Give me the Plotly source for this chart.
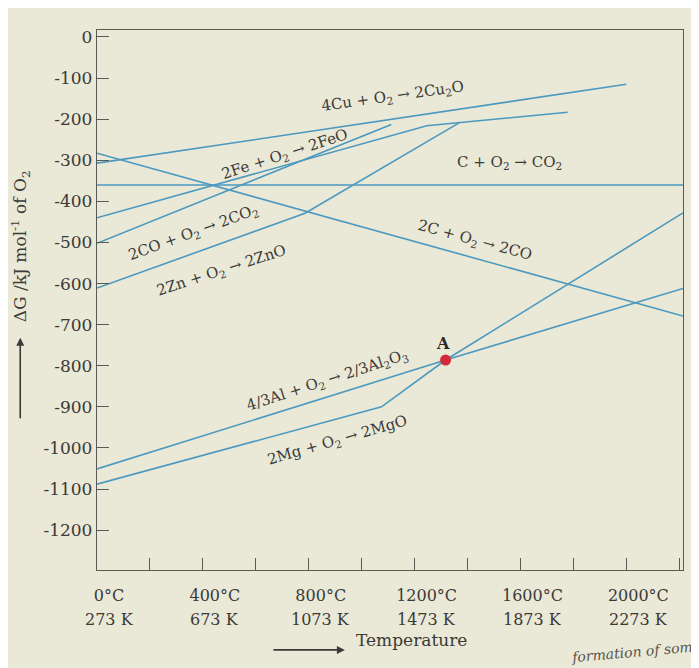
import plotly.graph_objects as go

# ---- data (temperature in °C, ΔG in kJ/mol of O2) ----
cu_T = [0, 2000];              cu_G = [-307, -115]
fe_T = [0, 1246, 1778];        fe_G = [-440, -216, -183]
c_co2_T = [0, 2214];           c_co2_G = [-360, -360]
c_co_T = [0, 2214];            c_co_G = [-283, -679]
co_co2_T = [0, 1112];          co_co2_G = [-502, -213]
zn_T = [0, 786, 1368];         zn_G = [-611, -429, -209]
al_T = [0, 1317, 2214];        al_G = [-1051, -786, -612]
mg_T = [0, 1075, 1317, 2214];  mg_G = [-1088, -900, -786, -428]
point_A_T = [1317];            point_A_G = [-786]

x_tickvals = [0, 400, 800, 1200, 1600, 2000]
x_ticktext = ["0°C", "400°C", "800°C", "1200°C", "1600°C", "2000°C"]
x_kelvin = ["273 K", "673 K", "1073 K", "1473 K", "1873 K", "2273 K"]
y_tickvals = [0, -100, -200, -300, -400, -500, -600, -700, -800, -900, -1000, -1100, -1200]
y_ticktext = ["0", "-100", "-200", "-300", "-400", "-500", "-600", "-700", "-800",
              "-900", "-1000", "-1100", "-1200"]

labels = [
    ("4Cu + O<sub>2</sub> → 2Cu<sub>2</sub>O", 1118, -146, -8),
    ("2Fe + O<sub>2</sub> → 2FeO", 710, -285, -18),
    ("C + O<sub>2</sub> → CO<sub>2</sub>", 1557, -305, 0),
    ("2C + O<sub>2</sub> → 2CO", 1428, -496, 15),
    ("2CO + O<sub>2</sub> → 2CO<sub>2</sub>", 366, -475, -20),
    ("2Zn + O<sub>2</sub> → 2ZnO", 472, -567, -18),
    ("4/3Al + O<sub>2</sub> → 2/3Al<sub>2</sub>O<sub>3</sub>", 869, -835, -18),
    ("2Mg + O<sub>2</sub> → 2MgO", 907, -981, -16),
]

LINE = "#4b99c0"
FRAME = "#5a5a55"
TEXT = "#3a3a38"
BG = "#eae8d6"
FONT = "DejaVu Serif"

fig = go.Figure()
for T, G in [(cu_T, cu_G), (fe_T, fe_G), (c_co2_T, c_co2_G), (c_co_T, c_co_G),
             (co_co2_T, co_co2_G), (zn_T, zn_G), (al_T, al_G), (mg_T, mg_G)]:
    fig.add_trace(go.Scatter(x=T, y=G, mode="lines",
                             line=dict(color=LINE, width=1.6),
                             showlegend=False, hoverinfo="skip"))

fig.add_trace(go.Scatter(x=point_A_T, y=point_A_G, mode="markers",
                         marker=dict(color="#d22a36", size=11),
                         showlegend=False, hoverinfo="skip"))

for text, x, y, ang in labels:
    fig.add_annotation(x=x, y=y, text=text, textangle=ang, showarrow=False,
                       font=dict(family=FONT, size=15, color=TEXT),
                       xanchor="center", yanchor="middle")

fig.add_annotation(x=point_A_T[0], y=point_A_G[0], text="<b>A</b>", showarrow=False,
                   yshift=17, xshift=-3, font=dict(family=FONT, size=16, color="#2a2a28"))

# Kelvin line under each temperature tick label
for tv, kt in zip(x_tickvals, x_kelvin):
    fig.add_annotation(x=tv, xref="x", y=-0.091, yref="paper", text=kt,
                       showarrow=False, xshift=12, yanchor="middle",
                       font=dict(family=FONT, size=16, color=TEXT))

# y-axis title with arrow
fig.add_annotation(xref="paper", yref="paper", x=-0.131, y=0.60,
                   text="ΔG /kJ mol<sup>-1</sup> of O<sub>2</sub>", textangle=-90,
                   showarrow=False, xanchor="center", yanchor="middle",
                   font=dict(family=FONT, size=17, color=TEXT))
fig.add_annotation(xref="paper", yref="paper", x=-0.131, y=0.43, ax=0, ay=82,
                   axref="pixel", ayref="pixel", text="", showarrow=True,
                   arrowhead=2, arrowsize=1, arrowwidth=1.6, arrowcolor=TEXT)

# x-axis title with arrow
fig.add_annotation(xref="paper", yref="paper", x=0.5375, y=-0.129,
                   text="Temperature", showarrow=False,
                   xanchor="center", yanchor="middle",
                   font=dict(family=FONT, size=17, color=TEXT))
fig.add_annotation(xref="paper", yref="paper", x=0.423, y=-0.148, ax=-73, ay=0,
                   axref="pixel", ayref="pixel", text="", showarrow=True,
                   arrowhead=2, arrowsize=1, arrowwidth=1.6, arrowcolor=TEXT)

# caption fragment at the bottom right of the photographed page
fig.add_annotation(xref="paper", yref="paper", x=1.022, y=-0.152, xanchor="right",
                   yanchor="middle",
                   text="<i>formation of som</i>", textangle=-5, showarrow=False,
                   font=dict(family=FONT, size=14, color="#555550"))

fig.update_layout(
    width=691, height=660,
    margin=dict(l=89, r=16, t=22, b=98),
    paper_bgcolor=BG, plot_bgcolor=BG,
    font=dict(family=FONT, color=TEXT),
    xaxis=dict(range=[0, 2214], tickvals=x_tickvals, ticktext=x_ticktext,
               ticks="inside", ticklen=12, tickcolor=FRAME, tickwidth=1.2,
               minor=dict(dtick=200, tick0=0, ticks="inside", ticklen=12,
                          tickcolor=FRAME, tickwidth=1.2),
               showline=True, mirror=True, linecolor=FRAME, linewidth=1.3,
               showgrid=False, zeroline=False, ticklabelstandoff=11,
               ticklabelshift=12,
               tickfont=dict(family=FONT, size=16, color=TEXT)),
    yaxis=dict(range=[-1297, 17], tickvals=y_tickvals, ticktext=y_ticktext,
               ticks="inside", ticklen=12, tickcolor=FRAME, tickwidth=1.2,
               showline=True, mirror=True, linecolor=FRAME, linewidth=1.3,
               showgrid=False, zeroline=False,
               tickfont=dict(family=FONT, size=17, color=TEXT)),
)

fig.write_html("out.html")
